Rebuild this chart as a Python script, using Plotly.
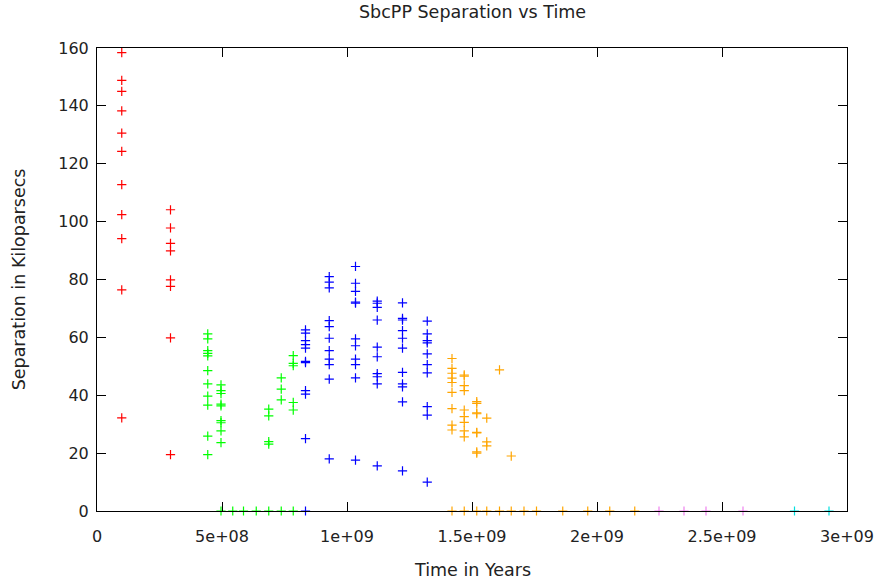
import plotly.graph_objects as go

# ---- data: time (years) columns and separations (kpc) ----
red_times = [0.099e9, 0.294e9]
red_seps = [
    [158.4, 148.8, 145.0, 138.3, 130.6, 124.3, 112.8, 102.4, 94.1, 76.4, 32.2],
    [104.1, 97.8, 92.5, 89.9, 79.9, 77.6, 59.8, 19.5],
]

green_times = [0.443e9, 0.496e9, 0.543e9, 0.586e9, 0.637e9, 0.687e9, 0.737e9, 0.785e9]
green_seps = [
    [61.2, 59.5, 55.4, 54.5, 53.6, 48.5, 43.9, 39.7, 36.6, 25.9, 19.5],
    [43.6, 41.6, 40.6, 36.9, 36.3, 31.2, 30.5, 27.7, 23.6, 0],
    [0],
    [0],
    [0],
    [35.2, 32.9, 24.0, 23.1, 0],
    [46.0, 42.1, 38.4, 0],
    [53.7, 51.0, 50.2, 37.5, 34.9, 0],
]

blue_times = [0.834e9, 0.929e9, 1.034e9, 1.121e9, 1.222e9, 1.321e9]
blue_seps = [
    [62.6, 61.5, 58.9, 57.5, 56.3, 51.7, 51.3, 41.6, 40.4, 25.0, 0],
    [81.0, 79.1, 77.1, 65.8, 63.7, 59.7, 55.4, 52.5, 50.6, 45.6, 18.0],
    [84.5, 78.7, 75.9, 72.2, 71.8, 59.5, 57.1, 52.5, 50.6, 46.0, 17.6],
    [72.5, 71.8, 70.4, 66.0, 56.6, 53.3, 47.5, 46.4, 43.9, 15.6],
    [71.9, 66.6, 66.0, 62.3, 59.7, 56.3, 47.9, 43.9, 42.9, 37.7, 13.9],
    [65.6, 61.2, 58.9, 58.1, 54.3, 50.6, 47.7, 36.1, 33.1, 10.0],
]

orange_times = [1.420e9, 1.469e9, 1.519e9, 1.559e9, 1.610e9, 1.657e9,
                1.708e9, 1.758e9, 1.863e9, 1.963e9, 2.051e9, 2.151e9]
orange_seps = [
    [52.7, 49.3, 47.6, 45.9, 44.4, 41.0, 35.4, 29.7, 28.0, 0],
    [47.0, 46.6, 43.3, 41.6, 34.9, 32.6, 30.6, 27.7, 25.6, 0],
    [37.8, 37.2, 33.9, 33.6, 27.2, 27.0, 20.4, 20.0, 0],
    [32.1, 23.9, 22.5, 0],
    [48.8, 0],
    [19.0, 0],
    [0], [0], [0], [0], [0], [0],
]

violet_times = [2.248e9, 2.348e9, 2.436e9, 2.584e9]
violet_seps = [[0], [0], [0], [0]]

cyan_times = [2.790e9, 2.928e9]
cyan_seps = [[0], [0]]

x_tickvals = [0, 5e8, 1e9, 1.5e9, 2e9, 2.5e9, 3e9]
x_ticktext = ["0", "5e+08", "1e+09", "1.5e+09", "2e+09", "2.5e+09", "3e+09"]
y_tickvals = [0, 20, 40, 60, 80, 100, 120, 140, 160]

series = [
    (red_times, red_seps, "#ff0000"),
    (green_times, green_seps, "#00ff00"),
    (blue_times, blue_seps, "#0000ff"),
    (orange_times, orange_seps, "#ffa500"),
    (violet_times, violet_seps, "#ee82ee"),
    (cyan_times, cyan_seps, "#00e0e0"),
]

FONT = "DejaVu Sans"
TITLE_SIZE = 17.5
fig = go.Figure()
for times, seps, color in series:
    xs, ys = [], []
    for t, col in zip(times, seps):
        for v in col:
            xs.append(t)
            ys.append(v)
    fig.add_trace(go.Scatter(
        x=xs, y=ys, mode="markers", cliponaxis=False, showlegend=False,
        marker=dict(symbol="cross-thin-open", size=6.6, color=color,
                    line=dict(color=color, width=1.2)),
    ))

axis_common = dict(
    showline=True, linecolor="#000000", linewidth=1, mirror="allticks",
    ticks="inside", ticklen=9, tickcolor="#000000", tickwidth=1,
    showgrid=False, zeroline=False,
    tickfont=dict(family=FONT, size=16, color="#222222"),
)

fig.update_layout(
    width=886, height=584,
    margin=dict(l=96.7, r=34, t=48.3, b=73.3),
    paper_bgcolor="white", plot_bgcolor="white",
    xaxis=dict(range=[0, 3e9], tickvals=x_tickvals, ticktext=x_ticktext,
               ticklabelstandoff=11, **axis_common),
    yaxis=dict(range=[0, 160], tickvals=y_tickvals,
               ticklabelstandoff=4, **axis_common),
    annotations=[
        dict(text="SbcPP Separation vs Time", xref="paper", yref="paper",
             x=0.5, y=1.0785, xanchor="center", yanchor="middle", showarrow=False,
             font=dict(family=FONT, size=TITLE_SIZE, color="#222222")),
        dict(text="Time in Years", xref="paper", yref="paper",
             x=0.5, y=-0.128, xanchor="center", yanchor="middle", showarrow=False,
             font=dict(family=FONT, size=TITLE_SIZE, color="#222222")),
        dict(text="Separation in Kiloparsecs", xref="paper", yref="paper",
             x=-0.1042, y=0.5, xanchor="center", yanchor="middle", showarrow=False,
             textangle=-90, font=dict(family=FONT, size=TITLE_SIZE, color="#222222")),
    ],
)

fig.write_html("out.html")
